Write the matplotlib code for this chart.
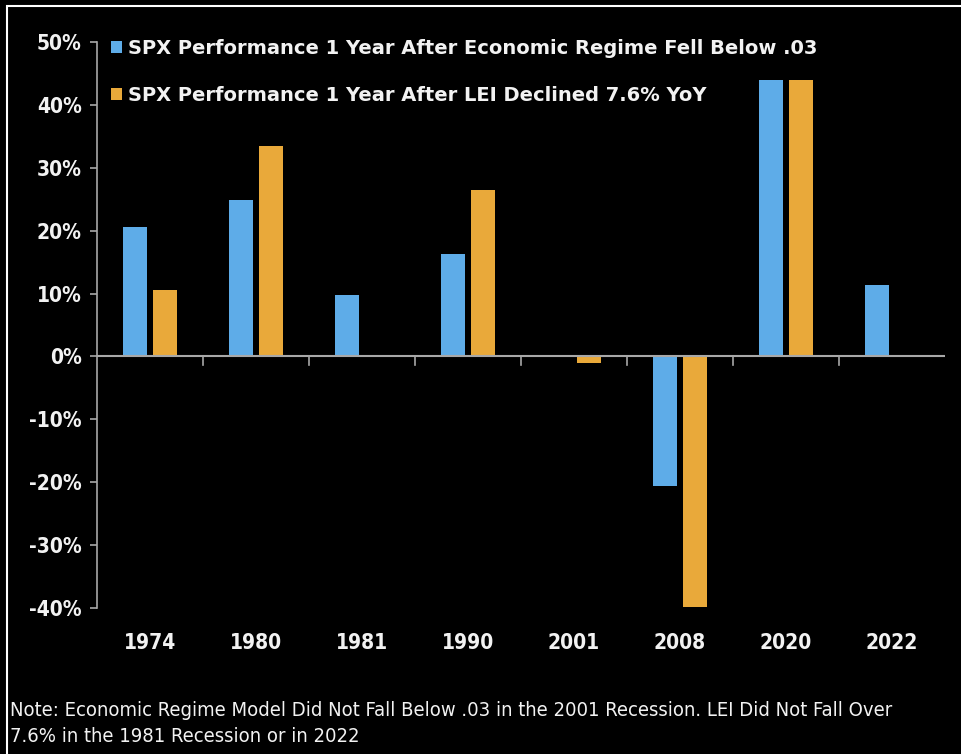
import matplotlib.pyplot as plt
import numpy as np
from matplotlib.patches import Rectangle

# ==================== 数据 ====================
years = ['1974', '1980', '1981', '1990', '2001', '2008', '2020', '2022']
regime = [20.6, 24.9, 9.7, 16.3, np.nan, -20.6, 44.0, 11.3]
lei = [10.6, 33.5, np.nan, 26.5, -1.0, -39.8, 44.0, np.nan]
label_regime = 'SPX Performance 1 Year After Economic Regime Fell Below .03'
label_lei = 'SPX Performance 1 Year After LEI Declined 7.6% YoY'
note = ('Note: Economic Regime Model Did Not Fall Below .03 in the 2001 Recession. LEI Did Not Fall Over\n'
        '7.6% in the 1981 Recession or in 2022')

BLUE = '#5EACE8'
ORANGE = '#E9A93A'
FG = '#F2F2F2'
AXC = '#A8A8A8'

fig = plt.figure(figsize=(9.62, 7.54), dpi=100, facecolor='black')
ax = fig.add_axes([97 / 962, 146 / 754, 848 / 962, 566 / 754])
ax.set_facecolor('black')

x = np.arange(len(years))
w = 0.226
ax.bar(x - 0.142, regime, w, color=BLUE, label=label_regime)
ax.bar(x + 0.142, lei, w, color=ORANGE, label=label_lei)

ax.set_xlim(-0.5, len(years) - 0.5)
ax.set_ylim(-40, 50)
ax.set_yticks(range(-40, 51, 10))
ax.set_yticklabels([f'{v}%' for v in range(-40, 51, 10)])

# 零线和分类刻度
ax.axhline(0, color=AXC, lw=1.5)
for b in x[:-1] + 0.5:
    ax.plot([b, b], [0, -1.3], color=AXC, lw=1.2)

for s in ['top', 'right', 'bottom']:
    ax.spines[s].set_visible(False)
ax.spines['left'].set_color(AXC)
ax.spines['left'].set_linewidth(1.2)
ax.tick_params(axis='y', colors=AXC, length=5, width=1.2, pad=6)
ax.tick_params(axis='x', length=0, pad=18)
ax.set_xticks(x)
ax.set_xticklabels(years)
for t in ax.get_yticklabels() + ax.get_xticklabels():
    t.set_color(FG)
    t.set_fontsize(15)
    t.set_fontweight('bold')
    t.set_fontstretch('condensed')

leg = ax.legend(loc='upper left', bbox_to_anchor=(0.0, 1.03), frameon=False,
                fontsize=14, handlelength=0.6, handleheight=0.6, handletextpad=0.3,
                labelspacing=1.45, borderaxespad=0.3)
for t in leg.get_texts():
    t.set_color(FG)
    t.set_fontweight('bold')

fig.text(10 / 962, 1 - 746 / 754, note, color=FG, fontsize=14.5, fontstretch='condensed',
         family=['DejaVu Sans'], va='bottom', linespacing=1.45)

# 白色边框
fig.patches.append(Rectangle((7 / 962, -0.1), 1.2, 1 - 6 / 754 + 0.1, transform=fig.transFigure,
                             fill=False, edgecolor='white', lw=1.5))

fig.savefig('out.png', dpi=100, facecolor='black')
